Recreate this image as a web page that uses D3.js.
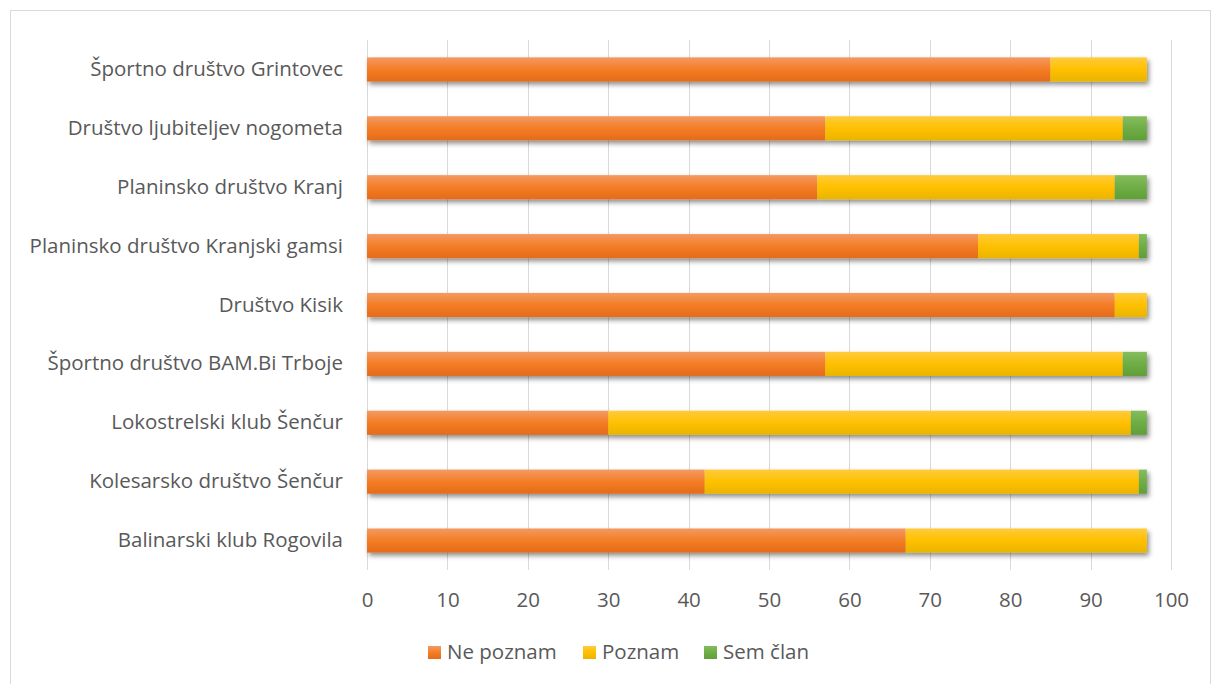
<!DOCTYPE html>
<html>
<head>
<meta charset="utf-8">
<script src="https://cdn.jsdelivr.net/npm/d3@7"></script>
<style>
  body { margin: 0; background: #fff; }
  text { font-family: "Open Sans", "Liberation Sans", sans-serif; fill: #595959; }
</style>
</head>
<body>
<div id="chart"></div>
<script>
// Data, top to bottom
const categories = [
  "Športno društvo Grintovec",
  "Društvo ljubiteljev nogometa",
  "Planinsko društvo Kranj ",
  "Planinsko društvo Kranjski gamsi",
  "Društvo Kisik",
  "Športno društvo BAM.Bi Trboje",
  "Lokostrelski klub Šenčur",
  "Kolesarsko društvo Šenčur",
  "Balinarski klub Rogovila"
];
const nePoznam = [85, 57, 56, 76, 93, 57, 30, 42, 67];
const poznam   = [12, 37, 37, 20,  4, 37, 65, 54, 30];
const semClan  = [ 0,  3,  4,  1,  0,  3,  2,  1,  0];
const seriesNames = ["Ne poznam", "Poznam", "Sem član"];
const xTicks = [0, 10, 20, 30, 40, 50, 60, 70, 80, 90, 100];

const width = 1214, height = 684;
const margin = { top: 40, right: 43, bottom: 114, left: 367 };
const fontSize = "20.5px";

const svg = d3.select("#chart").append("svg")
  .attr("width", width)
  .attr("height", height);

// chart border
svg.append("rect")
  .attr("x", 10.5).attr("y", 10.5)
  .attr("width", 1200).attr("height", 700)
  .attr("fill", "none")
  .attr("stroke", "#d9d9d9");

const defs = svg.append("defs");
const colors = [
  ["#f39a63", "#f47d25", "#e46b1a"],
  ["#ffcb3d", "#ffc000", "#e9b400"],
  ["#85bd5e", "#6fad46", "#5f9f39"]
];
colors.forEach((c, i) => {
  const g = defs.append("linearGradient")
    .attr("id", "grad" + i)
    .attr("x1", "0").attr("y1", "0").attr("x2", "0").attr("y2", "1");
  g.append("stop").attr("offset", "0%").attr("stop-color", c[0]);
  g.append("stop").attr("offset", "50%").attr("stop-color", c[1]);
  g.append("stop").attr("offset", "100%").attr("stop-color", c[2]);
});
const shadow = defs.append("filter").attr("id", "shadow")
  .attr("x", "-5%").attr("y", "-20%").attr("width", "110%").attr("height", "160%");
shadow.append("feDropShadow")
  .attr("dx", 2).attr("dy", 3).attr("stdDeviation", 2.5)
  .attr("flood-color", "#000").attr("flood-opacity", 0.45);

const plotW = width - margin.left - margin.right;
const plotH = height - margin.top - margin.bottom;
const g = svg.append("g").attr("transform", `translate(${margin.left},${margin.top})`);

const x = d3.scaleLinear().domain([0, 100]).range([0, plotW]);
const y = d3.scaleBand().domain(categories).range([0, plotH]).paddingInner(0.59).paddingOuter(0.295);

// gridlines
g.selectAll("line.grid")
  .data(xTicks)
  .enter().append("line")
  .attr("class", "grid")
  .attr("x1", d => Math.round(x(d)) + 0.5)
  .attr("x2", d => Math.round(x(d)) + 0.5)
  .attr("y1", 0).attr("y2", plotH)
  .attr("stroke", "#d9d9d9")
  .attr("stroke-width", 1);

// stacked data
const rows = categories.map((c, i) => ({ cat: c, "Ne poznam": nePoznam[i], "Poznam": poznam[i], "Sem član": semClan[i] }));
const stacked = d3.stack().keys(seriesNames)(rows);

const barsG = g.append("g").attr("filter", "url(#shadow)");
stacked.forEach((s, si) => {
  barsG.selectAll("rect.s" + si)
    .data(s)
    .enter().append("rect")
    .attr("class", "s" + si)
    .attr("x", d => x(d[0]))
    .attr("y", d => y(d.data.cat))
    .attr("width", d => x(d[1]) - x(d[0]))
    .attr("height", y.bandwidth())
    .attr("fill", `url(#grad${si})`);
});

// category axis
g.append("g")
  .call(d3.axisLeft(y).tickSize(0).tickPadding(24))
  .call(a => a.select(".domain").remove())
  .selectAll("text")
  .style("font-size", fontSize)
  .attr("fill", "#595959");

// value axis labels
g.append("g")
  .attr("transform", `translate(0,${plotH})`)
  .call(d3.axisBottom(x).tickValues(xTicks).tickSize(0).tickPadding(22))
  .call(a => a.select(".domain").remove())
  .selectAll("text")
  .style("font-size", fontSize)
  .attr("fill", "#595959");

// legend
const legendX = [428, 583, 704];
const legend = svg.append("g").attr("transform", "translate(0,652)");
seriesNames.forEach((n, i) => {
  legend.append("rect")
    .attr("x", legendX[i]).attr("y", -6)
    .attr("width", 13).attr("height", 13)
    .attr("fill", `url(#grad${i})`);
  legend.append("text")
    .attr("x", legendX[i] + 19).attr("y", 0)
    .attr("dy", "0.35em")
    .style("font-size", fontSize)
    .text(n);
});
</script>
</body>
</html>
